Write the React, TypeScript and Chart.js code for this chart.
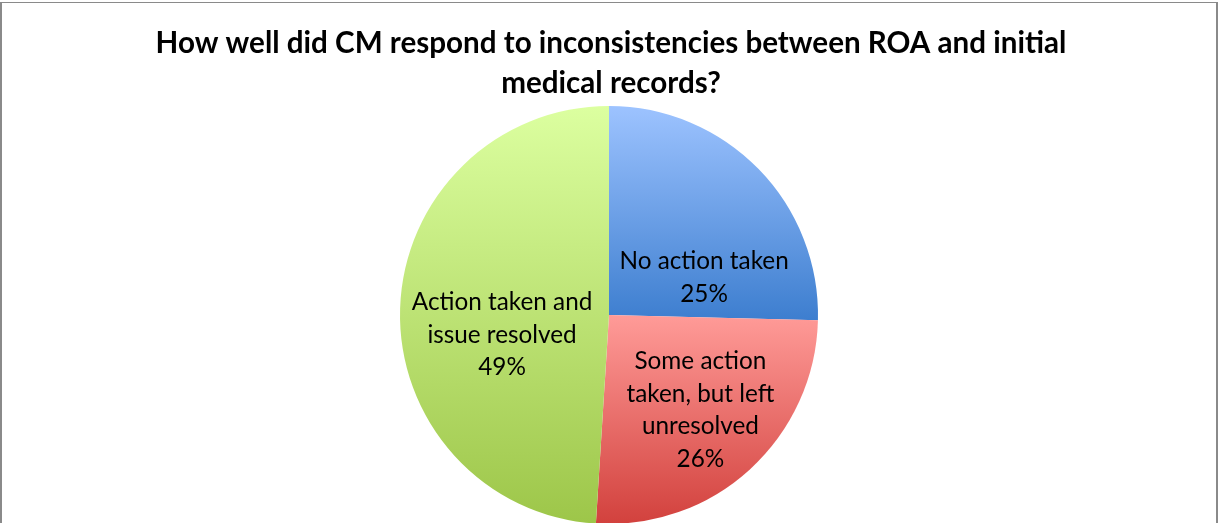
import React, { useEffect, useRef } from "react";
import { Chart, registerables } from "chart.js";

Chart.register(...registerables);

const titleLines = [
  "How well did CM respond to inconsistencies between ROA and initial",
  "medical records?",
];
const categories = [
  "No action taken",
  "Some action taken, but left unresolved",
  "Action taken and issue resolved",
];
const labelLines = [
  ["No action taken"],
  ["Some action", "taken, but left", "unresolved"],
  ["Action taken and", "issue resolved"],
];
const values = [25.4, 25.6, 49.0];

// gradient top / bottom colours per slice
const topColors = ["#9dc3ff", "#ff9b98", "#dcffa0"];
const bottomColors = ["#3d7ecf", "#d2413d", "#9dc649"];

// label placement: fraction of radius and angle offset (deg) from slice mid-angle
const labelRadiusFrac = [0.49, 0.63, 0.52];
const labelAngleOffset = [22.5, -1.5, -12];

const W = 1224;
const H = 560;
const FONT = "Lato, 'Open Sans', sans-serif";

function sliceYRange(idx: number, cy: number, r: number) {
  const total = values.reduce((a, b) => a + b, 0);
  let acc = 0;
  for (let i = 0; i < idx; i++) acc += values[i];
  const a0 = (acc / total) * Math.PI * 2 - Math.PI / 2;
  const a1 = ((acc + values[idx]) / total) * Math.PI * 2 - Math.PI / 2;
  let minY = cy;
  let maxY = cy;
  const steps = 200;
  for (let s = 0; s <= steps; s++) {
    const a = a0 + ((a1 - a0) * s) / steps;
    const y = cy + Math.sin(a) * r;
    if (y < minY) minY = y;
    if (y > maxY) maxY = y;
  }
  return [minY, maxY];
}

const framePlugin = {
  id: "frame",
  beforeDraw(chart: any) {
    const ctx = chart.ctx;
    ctx.save();
    ctx.fillStyle = "#ffffff";
    ctx.fillRect(0, 0, W, H);
    ctx.fillStyle = "#8a8a8a";
    ctx.fillRect(0, 2, 2, H);
    ctx.fillRect(0, 2, 1218, 1);
    ctx.fillRect(1216, 2, 2, H);
    ctx.restore();
  },
};

const titlePlugin = {
  id: "customTitle",
  afterDraw(chart: any) {
    const ctx = chart.ctx;
    ctx.save();
    ctx.fillStyle = "#000000";
    ctx.font = `bold 29.6px ${FONT}`;
    ctx.textAlign = "center";
    ctx.textBaseline = "alphabetic";
    titleLines.forEach((t, i) => {
      ctx.fillText(t, 611, 53 + i * 40);
    });
    ctx.restore();
  },
};

const labelPlugin = {
  id: "sliceLabels",
  afterDatasetsDraw(chart: any) {
    const ctx = chart.ctx;
    const meta = chart.getDatasetMeta(0);
    const total = values.reduce((a, b) => a + b, 0);
    ctx.save();
    ctx.fillStyle = "#000000";
    ctx.font = `24.3px ${FONT}`;
    ctx.textAlign = "center";
    ctx.textBaseline = "alphabetic";
    meta.data.forEach((arc: any, i: number) => {
      const p = arc.getProps(["x", "y", "startAngle", "endAngle", "outerRadius"], true);
      const mid = (p.startAngle + p.endAngle) / 2 + (labelAngleOffset[i] * Math.PI) / 180;
      const rr = p.outerRadius * labelRadiusFrac[i];
      const cx = p.x + Math.cos(mid) * rr;
      const cy = p.y + Math.sin(mid) * rr;
      const lines = [...labelLines[i], Math.round((values[i] / total) * 100) + "%"];
      const lh = 32.5;
      const first = cy - ((lines.length - 1) * lh) / 2 + 8.3;
      lines.forEach((l, j) => ctx.fillText(l, cx, first + j * lh));
    });
    ctx.restore();
  },
};

export default function App() {
  const ref = useRef<HTMLCanvasElement | null>(null);

  useEffect(() => {
    document.body.style.margin = "0";
    const canvas = ref.current;
    if (!canvas) return;
    const chart = new Chart(canvas, {
      type: "pie",
      data: {
        labels: categories,
        datasets: [
          {
            data: values,
            borderWidth: 0,
            backgroundColor: (c: any) => {
              const ch = c.chart;
              const area = ch.chartArea;
              const i = c.dataIndex;
              if (!area || i === undefined) return topColors[i ?? 0];
              const cy = (area.top + area.bottom) / 2;
              const r = Math.min(area.right - area.left, area.bottom - area.top) / 2;
              const [y0, y1] = sliceYRange(i, cy, r);
              const g = ch.ctx.createLinearGradient(0, y0, 0, y1);
              g.addColorStop(0, topColors[i]);
              g.addColorStop(1, bottomColors[i]);
              return g;
            },
          },
        ],
      },
      options: {
        responsive: false,
        animation: false,
        devicePixelRatio: 1,
        layout: { padding: { left: 400, right: W - 818, top: 106, bottom: H - 524 } },
        plugins: {
          legend: { display: false },
          title: { display: false },
          tooltip: { enabled: false },
        },
      },
      plugins: [framePlugin, titlePlugin, labelPlugin],
    });
    return () => chart.destroy();
  }, []);

  return (
    <div style={{ width: W, height: 523, overflow: "hidden", position: "relative" }}>
      <canvas ref={ref} width={W} height={H} style={{ display: "block", width: W, height: H }} />
    </div>
  );
}
